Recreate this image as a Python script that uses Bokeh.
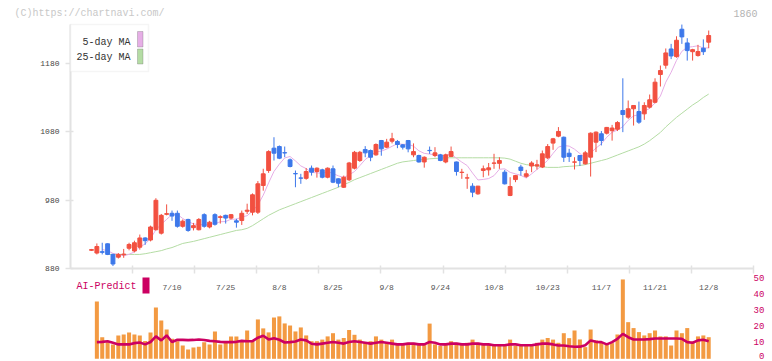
import pandas as pd
from bokeh.plotting import figure
from bokeh.models import (ColumnDataSource, Range1d, LinearAxis, FixedTicker,
                          BoxAnnotation, Label)
from bokeh.embed import file_html
from bokeh.resources import INLINE

# ---------------- data (trading-day index 0 = 6/19) ----------------
date_idx = [15, 25, 35, 45, 55, 65, 75, 85, 95, 105, 115]
date_labels = ["7/10", "7/25", "8/8", "8/25", "9/8", "9/24", "10/8", "10/23", "11/7", "11/21", "12/8"]

opens = [907, 903, 905, 916.5, 901, 897, 900.5, 910, 906, 911.5,
         925, 922, 937, 932, 959.5, 961, 961, 942, 952, 940,
         937, 959, 941, 959, 955, 958, 954, 950, 950.5, 964,
         962.6, 962.6, 1001.6, 1023.4, 1056, 1058.4, 1049.5, 1039, 1019, 1012.6,
         1012, 1026.8, 1022, 1024.4, 1013.6, 1025.9, 1011.3, 999, 1009.9, 1026.8,
         1038, 1054, 1052.6, 1046.3, 1067.2, 1057.5, 1066.2, 1065.8, 1060.9, 1067.2,
         1046.3, 1045.3, 1035.9, 1052.8, 1045.3, 1046.3, 1035.9, 1044, 1035.9, 1020.5,
         1012.4, 1000.6, 989.4, 1023.5, 1024.4, 1034, 1033.9, 1021, 987, 1010.2,
         1028.5, 1015, 1030, 1030, 1028.5, 1041.9, 1063.4, 1073.6, 1072, 1048.7,
         1035.6, 1045.3, 1033.2, 1042.9, 1064.8, 1077, 1077.9, 1081.5, 1083.6, 1111,
         1101.3, 1113.5, 1109.5, 1106.1, 1115.9, 1123, 1163.5, 1177.1, 1200.8, 1189.6,
         1229.6, 1209.6, 1196.8, 1191.2, 1201.9, 1210.7]
highs = [909, 917, 918, 917, 902, 903, 909, 918, 921, 930,
         926, 943, 983, 960, 974, 965, 965, 952, 953, 947,
         954, 961, 950, 961, 958, 959, 960, 953, 965, 975,
         990, 1008, 1026, 1053, 1072, 1060, 1058.4, 1041, 1023.4, 1018.6,
         1027, 1030.7, 1028, 1026, 1028, 1030.7, 1012, 1016, 1036, 1052,
         1052, 1059, 1054, 1063, 1068, 1069.6, 1078.4, 1068, 1062, 1068,
         1063, 1046.5, 1044, 1058.4, 1057.5, 1047.7, 1048, 1058.4, 1036.5, 1025.9,
         1018.6, 1004.9, 1001, 1030.7, 1034.4, 1047.8, 1042.8, 1024.4, 1013.6, 1017,
         1031.8, 1024.4, 1037, 1039, 1052.6, 1062, 1071, 1086.8, 1073, 1055,
         1042.8, 1046, 1052, 1079, 1080.5, 1081, 1087, 1090, 1095.5, 1158,
         1125.6, 1119, 1124, 1123, 1134.3, 1158, 1176.6, 1201.5, 1208.2, 1219.3,
         1236.4, 1216.5, 1201, 1206.8, 1214.8, 1227.7]
lows = [906, 901, 901, 900, 884, 895, 896, 907, 904, 908,
        915, 920, 936, 930, 958, 950, 940, 940, 934, 936,
        936, 940, 939, 943, 946, 946, 952, 940, 944, 960,
        958, 960, 994, 1020, 1038, 1040, 1042.8, 1028, 999, 1004,
        1010, 1016, 1013, 1012, 1012, 1005, 999, 998, 1008, 1025,
        1036, 1042.8, 1037, 1045, 1045, 1056, 1063, 1056, 1054, 1050,
        1042.8, 1035, 1027.6, 1047.7, 1042.8, 1037, 1034, 1043, 1016, 1011.3,
        996.7, 984.5, 988, 1013.6, 1016, 1025.9, 1025.9, 1003, 986, 1006.4,
        1016, 1012.7, 1021, 1024.9, 1027, 1040, 1053.6, 1072, 1035.9, 1035.9,
        1024.9, 1030, 1032, 1014.6, 1050.3, 1060, 1076, 1067, 1081, 1079.4,
        1098.8, 1089, 1091.5, 1097.4, 1114, 1121.5, 1146, 1172, 1186, 1188,
        1208.2, 1183.8, 1183.8, 1189.6, 1192, 1201.9]
closes = [908, 912.5, 904, 901, 887, 901, 901.5, 915.5, 918, 925,
          921, 941, 980, 958, 960.5, 957, 942, 949.5, 936, 943,
          952, 942, 948, 945, 956, 954, 959, 948, 961, 965.5,
          988, 1004, 1018.6, 1051, 1048.7, 1041.4, 1049, 1029.3, 1018.6, 1012.2,
          1022, 1021, 1026.8, 1013.6, 1026.8, 1006.4, 1004.9, 1013.6, 1034.4, 1050,
          1050, 1049.2, 1042.8, 1061.4, 1055, 1064.8, 1069.7, 1061.4, 1057.5, 1055,
          1051, 1035.9, 1042.8, 1052.4, 1049.2, 1038, 1046.3, 1051.1, 1022, 1021,
          1012.7, 991.8, 1000.6, 1025.9, 1027.3, 1034.4, 1038, 1004, 1000.1, 1016,
          1023.5, 1018.6, 1034.4, 1031.8, 1047.8, 1058.4, 1069.7, 1080.4, 1042.8, 1043.8,
          1036, 1038, 1049.2, 1077.9, 1079.4, 1067.2, 1086.3, 1085.4, 1093.4, 1105.1,
          1113.5, 1118.3, 1094, 1118.3, 1126.6, 1152.3, 1169.3, 1195, 1190.6, 1213.5,
          1218.4, 1198.4, 1199.8, 1197, 1196.8, 1220.4]

ma25 = [None, None, None, 901, 901, 901, 901, 901, 901, 901,
        902, 903.5, 905, 906.5, 909, 911, 914, 917, 918.5, 920,
        922, 924, 926, 928, 930, 932, 934, 936, 937, 939,
        943, 948, 953, 958, 962, 966, 969, 972, 975, 978,
        981, 984, 987, 990, 993, 996, 999, 1003, 1006, 1010,
        1013, 1016, 1019, 1022, 1025, 1028, 1031, 1034, 1036, 1037,
        1038, 1039, 1039.5, 1040.5, 1041, 1041.5, 1042, 1042, 1042, 1042,
        1042, 1042, 1042, 1042, 1042, 1042, 1042, 1041.5, 1040, 1037,
        1034, 1032, 1031, 1030, 1029, 1028, 1028, 1028, 1029, 1029.5,
        1030, 1030.7, 1032, 1034, 1036, 1038, 1040, 1043, 1046, 1049,
        1052, 1055, 1058, 1062, 1067, 1073, 1079, 1087, 1094, 1101,
        1107, 1113, 1119, 1124, 1130, 1135]

volume = [None, 35.8, 13.5, 10.4, 9.0, 14.6, 15.2, 16.5, 15.2, 14.6,
          11.2, 16.5, 32.1, 24.0, 18.3, 12.5, 11.0, 8.3, 5.8, 7.1,
          7.5, 10.4, 9.0, 17.1, 9.0, 11.0, 14.0, 14.0, 11.0, 17.7,
          11.0, 24.6, 19.0, 16.5, 25.8, 26.5, 22.1, 20.8, 17.1, 19.6,
          14.6, 11.0, 11.0, 12.0, 14.0, 16.0, 12.0, 13.0, 18.0, 15.0,
          12.0, 10.0, 11.0, 14.0, 12.0, 10.0, 12.0, 9.0, 9.0, 10.0,
          10.0, 9.0, 9.0, 22.0, 9.0, 8.0, 9.0, 11.0, 10.0, 9.0,
          10.0, 12.0, 10.0, 9.0, 9.0, 8.0, 8.0, 9.0, 12.0, 8.0,
          9.0, 8.0, 8.0, 10.0, 12.0, 13.0, 12.0, 10.0, 16.0, 12.9,
          17.7, 12.1, 7.3, 18.3, 11.5, 10.4, 9.8, 9.8, 15.2, 49.6,
          22.9, 19.2, 16.7, 14.6, 16.0, 17.7, 14.0, 14.0, 8.3, 17.7,
          16.0, 19.2, 10.8, 14.0, 14.6, 13.5]

ai_predict = [None, 10.4, 10.6, 11.0, 10.0, 9.0, 9.0, 9.0, 9.8, 10.2,
              9.0, 10.5, 14.0, 11.5, 14.6, 10.5, 11.9, 11.8, 11.7, 11.8,
              12.1, 11.8, 11.2, 11.0, 10.6, 10.4, 10.4, 10.6, 11.2, 11.0,
              11.0, 13.2, 14.4, 12.1, 12.9, 11.9, 10.2, 10.4, 10.8, 12.1,
              11.5, 9.4, 9.0, 9.5, 10.0, 10.5, 10.0, 9.5, 10.5, 11.0,
              10.5, 10.0, 9.5, 10.0, 10.5, 10.0, 9.5, 9.0, 9.0, 9.5,
              9.5, 9.0, 9.0, 10.5, 10.0, 9.0, 9.0, 9.5, 9.5, 9.0,
              9.0, 9.5, 9.5, 9.0, 9.0, 8.5, 8.5, 8.5, 9.0, 9.0,
              8.5, 8.5, 8.5, 9.0, 9.5, 9.5, 9.0, 8.3, 8.3, 7.8,
              7.5, 7.6, 8.5, 11.5, 10.6, 10.4, 9.0, 10.4, 12.5, 15.6,
              13.5, 12.1, 12.1, 12.1, 12.3, 12.7, 12.7, 12.7, 12.7, 12.7,
              12.5, 10.4, 10.0, 11.5, 11.9, 11.0]

price_ticks = [880, 980, 1080, 1180]
vol_ticks = [0, 10, 20, 30, 40, 50]

# ---------------- styling ----------------
UP = "#F25040"
DOWN = "#3D78EA"
MA5_C = "#E6AEE6"
MA25_C = "#B4DCA4"
VOL_C = "#F39A42"
AI_C = "#CC0062"
AXIS_C = "#E2E2E2"
MONO = "Liberation Mono"
W, H = 772, 361

# page-pixel -> data helpers (layout only)
def px2x(px):
    return (px - 91.0) / 5.367

def py2p(py):
    return 880 + (268.3 - py) / 0.6853

def py2v(py):
    return (358.3 - py) / 1.6

n = len(closes)
df = pd.DataFrame({"i": list(range(n)), "o": opens, "h": highs, "l": lows, "c": closes,
                   "ma25": ma25, "vol": volume, "ai": ai_predict})
for k in ("ma25", "vol", "ai"):
    df[k] = df[k].astype(float)
df["ma5"] = df["c"].rolling(5, min_periods=3).mean()
df["top"] = df[["o", "c"]].max(axis=1)
df["bot"] = df[["o", "c"]].min(axis=1)
df["col"] = [UP if c >= o else DOWN for o, c in zip(df["o"], df["c"])]
src = ColumnDataSource(df)

p = figure(width=W, height=H, x_range=Range1d(px2x(0), px2x(W)),
           y_range=Range1d(py2p(H), py2p(0)),
           output_backend="svg", toolbar_location=None,
           x_axis_type=None, y_axis_type=None, title=None,
           min_border_left=0, min_border_right=0, min_border_top=0, min_border_bottom=0)
p.outline_line_color = None
p.background_fill_color = "white"
p.border_fill_color = "white"
p.extra_y_ranges = {"vol": Range1d(py2v(H), py2v(0))}

# volume + AI predict
p.vbar(x="i", top="vol", bottom=0, width=0.75, source=src, y_range_name="vol",
       fill_color=VOL_C, line_color=None)
p.line(x="i", y="ai", source=src, y_range_name="vol", line_color=AI_C, line_width=2.6)

# moving averages
p.line(x="i", y="ma25", source=src, line_color=MA25_C, line_width=1)
p.line(x="i", y="ma5", source=src, line_color=MA5_C, line_width=1)

# candles
p.segment(x0="i", y0="h", x1="i", y1="l", source=src, line_color="col", line_width=1)
p.vbar(x="i", top="top", bottom="bot", width=0.72, source=src,
       fill_color="col", line_color="col", line_width=1)

XL, XR = px2x(70), px2x(753)

# left price axis
lax = LinearAxis(ticker=FixedTicker(ticks=price_ticks), bounds=(880, py2p(24)), fixed_location=XL)
lax.axis_line_color = AXIS_C
lax.axis_line_width = 2
lax.major_tick_line_color = AXIS_C
lax.major_tick_line_width = 1.5
lax.major_tick_in = 3
lax.major_tick_out = 5
lax.minor_tick_line_color = None
lax.major_label_standoff = 6
lax.major_label_text_font = MONO
lax.major_label_text_font_size = "8px"
lax.major_label_text_color = "#444444"
p.add_layout(lax, "left")

# right volume axis
rax = LinearAxis(y_range_name="vol", ticker=FixedTicker(ticks=vol_ticks), bounds=(0, 50),
                 fixed_location=XR)
rax.axis_line_color = None
rax.major_tick_line_color = None
rax.minor_tick_line_color = None
rax.major_tick_in = 0
rax.major_tick_out = 0
rax.major_label_standoff = 0
rax.major_label_text_font = MONO
rax.major_label_text_font_size = "9px"
rax.major_label_text_color = AI_C
rax.major_label_overrides = {0: "\u00a00"}
p.add_layout(rax, "right")

# date axis drawn at price 880 (labels on trading days, plain ticks on an even grid)
grid_x = [XL + (XR - XL) * k / 11 for k in range(1, 12)]
bax = LinearAxis(ticker=FixedTicker(ticks=date_idx, minor_ticks=grid_x), bounds=(XL, XR),
                 fixed_location=880)
bax.axis_line_color = AXIS_C
bax.axis_line_width = 2
bax.major_tick_line_color = None
bax.major_tick_in = 0
bax.major_tick_out = 0
bax.minor_tick_line_color = AXIS_C
bax.minor_tick_line_width = 1.5
bax.minor_tick_in = 3
bax.minor_tick_out = 5
bax.major_label_standoff = 9
bax.major_label_text_font = MONO
bax.major_label_text_font_size = "8px"
bax.major_label_text_color = "#555555"
bax.major_label_overrides = dict(zip(date_idx, date_labels))
p.add_layout(bax, "below")

# legend (text left, swatch right)
p.add_layout(BoxAnnotation(left=px2x(70), right=px2x(148), top=py2p(24), bottom=py2p(71),
                           fill_color="white", fill_alpha=1, line_color="#DDDDDD", line_width=1.5))
for txt, col, ty, sy0, sy1 in [("5-day MA", MA5_C, 41.5, 31, 46.5), ("25-day MA", MA25_C, 57.3, 48.5, 63.5)]:
    p.add_layout(Label(x=px2x(130), y=py2p(ty), text=txt, text_align="right", text_baseline="middle",
                       text_font=MONO, text_font_size="10px", text_color="#333333"))
    p.add_layout(BoxAnnotation(left=px2x(137), right=px2x(142.5), top=py2p(sy0), bottom=py2p(sy1),
                               fill_color=col, fill_alpha=1, line_color="#666666", line_width=1))

# AI-Predict legend
p.add_layout(Label(x=px2x(76), y=py2p(286), text="AI-Predict", text_align="left", text_baseline="middle",
                   text_font=MONO, text_font_size="10px", text_color=AI_C))
p.add_layout(BoxAnnotation(left=px2x(142), right=px2x(149), top=py2p(277), bottom=py2p(293),
                           fill_color=AI_C, fill_alpha=1, line_color=None))

# header texts
p.add_layout(Label(x=px2x(14), y=py2p(12.5), text="(C)https://chartnavi.com/", text_align="left",
                   text_baseline="middle", text_font=MONO, text_font_size="10px", text_color="#C8C8C8"))
p.add_layout(Label(x=px2x(757), y=py2p(12.5), text="1860", text_align="right",
                   text_baseline="middle", text_font=MONO, text_font_size="10px", text_color="#B4B4B4"))

open("out.html", "w").write(file_html(p, INLINE))
